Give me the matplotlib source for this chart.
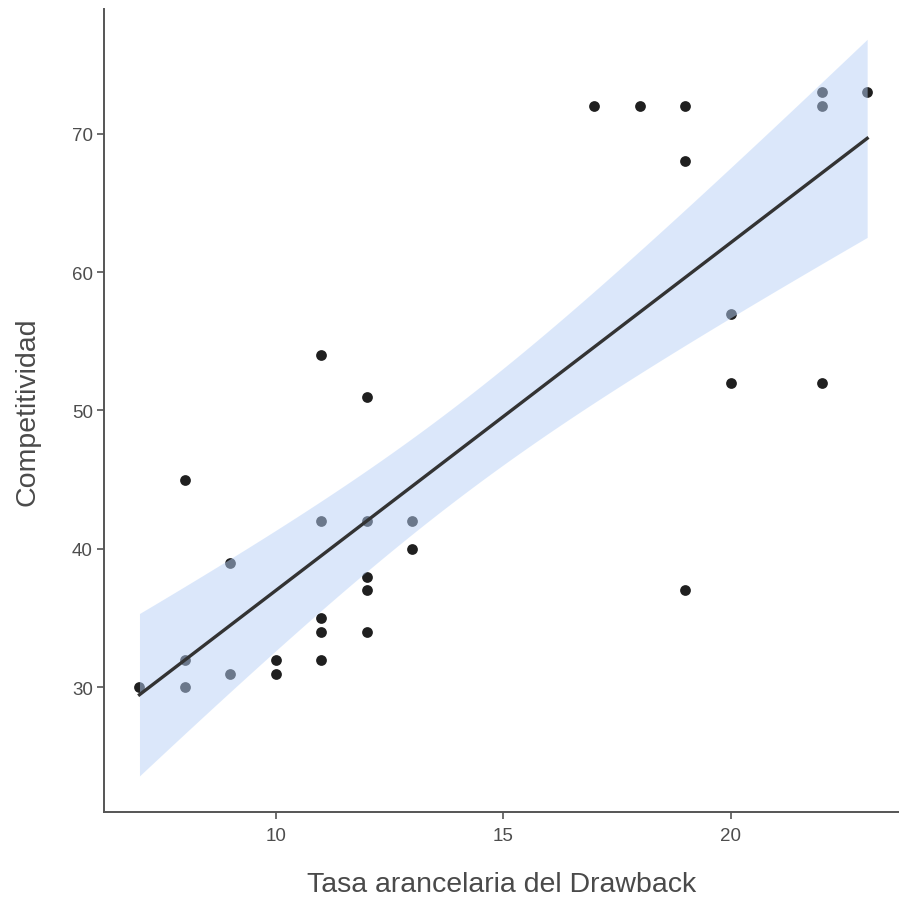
import numpy as np
import matplotlib
matplotlib.use("Agg")
import matplotlib.pyplot as plt
from matplotlib import font_manager as fm

# Data
x_vals = [7, 8, 8, 8, 9, 9, 10, 10, 11, 11, 11, 11, 11, 12, 12, 12, 12, 12,
          13, 13, 17, 18, 19, 19, 19, 20, 20, 22, 22, 22, 23]
y_vals = [30, 45, 32, 30, 39, 31, 32, 31, 54, 42, 35, 34, 32, 51, 42, 38, 37, 34,
          42, 40, 72, 72, 72, 68, 37, 57, 52, 73, 72, 52, 73]
x_ticks = [10, 15, 20]
y_ticks = [30, 40, 50, 60, 70]
x_label = "Tasa arancelaria del Drawback"
y_label = "Competitividad"

x = np.array(x_vals, float)
y = np.array(y_vals, float)
n = len(x)
b1, b0 = np.polyfit(x, y, 1)
xs = np.linspace(x.min(), x.max(), 200)
yhat = b0 + b1 * xs
resid = y - (b0 + b1 * x)
s = np.sqrt(np.sum(resid**2) / (n - 2))
sxx = np.sum((x - x.mean())**2)
se = s * np.sqrt(1 / n + (xs - x.mean())**2 / sxx)
tval = 2.045  # t(0.975, df=29)
lo, hi = yhat - tval * se, yhat + tval * se

# pick a narrow font for titles if available
names = {f.name for f in fm.fontManager.ttflist}
title_kw = dict(family=["Liberation Sans", "DejaVu Sans"], fontsize=20.5)
if "Liberation Sans Narrow" in names:
    title_kw = dict(family=["Liberation Sans Narrow", "DejaVu Sans"], fontsize=24)

fig = plt.figure(figsize=(8.99, 9.04), dpi=100)
ax = fig.add_axes([0.1157, 0.1007, 0.8843, 0.8883])
ax.scatter(x, y, s=60, color="#1f1f1f", zorder=2, linewidths=0)
ax.fill_between(xs, lo, hi, color=(0.72, 0.82, 0.97), alpha=0.5, linewidth=0, zorder=3)
ax.plot(xs, yhat, color="#333333", lw=2.4, zorder=4)

ax.set_xlim(6.22, 23.7)
ax.set_ylim(21.0, 79.0)
ax.set_xticks(x_ticks)
ax.set_yticks(y_ticks)
for sp in ["top", "right"]:
    ax.spines[sp].set_visible(False)
for sp in ["left", "bottom"]:
    ax.spines[sp].set_color("#555555")
    ax.spines[sp].set_linewidth(1.4)
ax.tick_params(axis="both", length=5, width=1.2, color="#555555",
               labelcolor="#4d4d4d", labelsize=13.5)
ax.tick_params(axis="x", pad=6)
ax.tick_params(axis="y", pad=3)
for lab in ax.get_xticklabels() + ax.get_yticklabels():
    lab.set_family(["Liberation Sans", "DejaVu Sans"])
ax.set_xlabel(x_label, color="#4a4a4a", **title_kw)
ax.set_ylabel(y_label, color="#4a4a4a", **title_kw)
ax.xaxis.set_label_coords(0.5, -0.074)
ax.yaxis.set_label_coords(-0.08, 0.5)

fig.savefig("out.png", dpi=100)
